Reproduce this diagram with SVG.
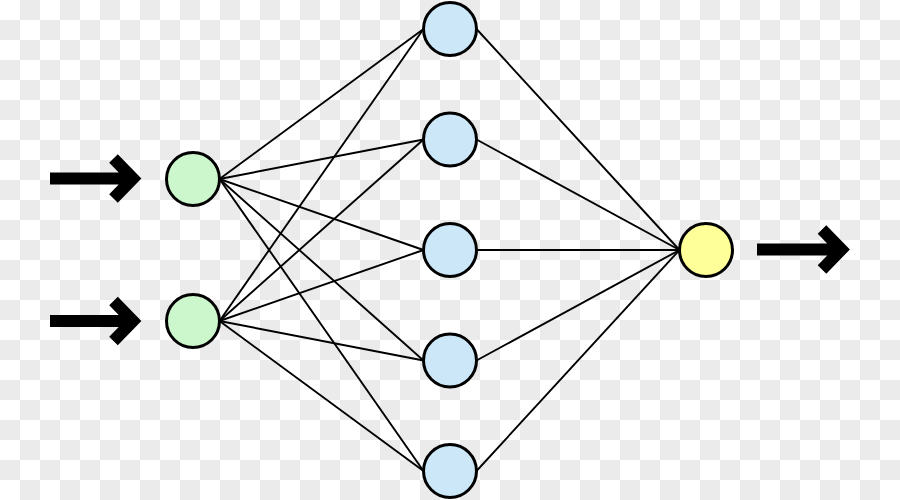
<svg xmlns="http://www.w3.org/2000/svg" width="900" height="500" viewBox="0 0 900 500">
<defs>
<pattern id="checker" x="0" y="0" width="40" height="40" patternUnits="userSpaceOnUse">
<rect x="0" y="0" width="40" height="40" fill="#ffffff"/>
<rect x="20" y="0" width="20" height="20" fill="#ebebeb"/>
<rect x="0" y="20" width="20" height="20" fill="#ebebeb"/>
</pattern>
</defs>
<style>
.edge{stroke:#000;stroke-width:1.9;fill:none}
.node{stroke:#000;stroke-width:3}
.in{fill:#ccf7cc}
.hid{fill:#cce8f8}
.out{fill:#ffff99}
.arrow{stroke:#000;stroke-width:12;fill:none;stroke-linejoin:miter;stroke-linecap:butt}
</style>
<rect x="0" y="0" width="900" height="500" fill="url(#checker)"/>
<g id="connectors">
<line class="edge" x1="219.5" y1="179" x2="423.5" y2="29"/>
<line class="edge" x1="219.5" y1="179" x2="423.5" y2="139.5"/>
<line class="edge" x1="219.5" y1="179" x2="423.5" y2="250"/>
<line class="edge" x1="219.5" y1="179" x2="423.5" y2="360.5"/>
<line class="edge" x1="219.5" y1="179" x2="423.5" y2="471"/>
<line class="edge" x1="219.5" y1="321" x2="423.5" y2="29"/>
<line class="edge" x1="219.5" y1="321" x2="423.5" y2="139.5"/>
<line class="edge" x1="219.5" y1="321" x2="423.5" y2="250"/>
<line class="edge" x1="219.5" y1="321" x2="423.5" y2="360.5"/>
<line class="edge" x1="219.5" y1="321" x2="423.5" y2="471"/>
<line class="edge" x1="476.5" y1="29" x2="679.5" y2="250"/>
<line class="edge" x1="476.5" y1="139.5" x2="679.5" y2="250"/>
<line class="edge" x1="476.5" y1="250" x2="679.5" y2="250"/>
<line class="edge" x1="476.5" y1="360.5" x2="679.5" y2="250"/>
<line class="edge" x1="476.5" y1="471" x2="679.5" y2="250"/>
<path class="arrow" d="M50,178.5 H133 M113.5,158.5 L133,178.5 L113.5,198.5"/>
<path class="arrow" d="M50,321 H133 M113.5,301 L133,321 L113.5,341"/>
<path class="arrow" d="M757,249.5 H841.5 M822,229.5 L841.5,249.5 L822,269.5"/>
</g>
<g id="input1"><circle class="node in" cx="193" cy="179" r="26.5"/></g>
<g id="input2"><circle class="node in" cx="193" cy="321" r="26.5"/></g>
<g id="hidden1"><circle class="node hid" cx="450" cy="29" r="26.5"/></g>
<g id="hidden2"><circle class="node hid" cx="450" cy="139.5" r="26.5"/></g>
<g id="hidden3"><circle class="node hid" cx="450" cy="250" r="26.5"/></g>
<g id="hidden4"><circle class="node hid" cx="450" cy="360.5" r="26.5"/></g>
<g id="hidden5"><circle class="node hid" cx="450" cy="471" r="26.5"/></g>
<g id="output"><circle class="node out" cx="706" cy="250" r="26.5"/></g>
</svg>
